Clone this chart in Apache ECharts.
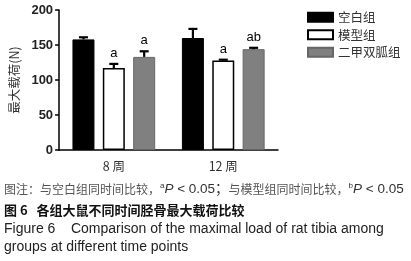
<!DOCTYPE html>
<html><head><meta charset="utf-8">
<script src="https://cdn.jsdelivr.net/npm/echarts@6/dist/echarts.min.js"></script>
<style>html,body{margin:0;padding:0;background:#fff}#c{width:411px;height:261px}</style>
</head><body><div id="c"></div>
<script>
var categories = ['8 周', '12 周'];
var seriesNames = ['空白组', '模型组', '二甲双胍组'];
var blankVals = [158, 160];
var blankErr = [3, 13];
var modelVals = [117, 128];
var modelErr = [6, 1];
var metforminVals = [133, 144];
var metforminErr = [8, 2];
var modelMarks = ['a', 'a'];
var metforminMarks = ['a', 'ab'];
var blankMarks = ['', ''];
var yTicks = [0, 50, 100, 150, 200];

var FONT = '"Liberation Sans", Arial, "Noto Sans CJK SC", sans-serif';
var CJK = '"Noto Sans CJK SC", "Liberation Sans", sans-serif';
var BW = 22, GAP = 0.38;
var spacing = BW * (1 + GAP);

var chart = echarts.init(document.getElementById('c'), null, {renderer: 'canvas'});

function errSeries(vals, errs, marks, idx) {
  var offset = (idx - 1) * spacing;
  return {
    type: 'custom',
    z: 5,
    silent: true,
    data: vals.map(function (v, i) { return [i, v, errs[i]]; }),
    renderItem: function (params, api) {
      var i = api.value(0), v = api.value(1), e = api.value(2);
      var mark = marks[params.dataIndex];
      var base = api.coord([i, v]);
      var top = api.coord([i, v + e]);
      var x = base[0] + offset;
      var cw = 9;
      var children = [
        {type: 'line', shape: {x1: x, y1: base[1], x2: x, y2: top[1]}, style: {stroke: '#000', lineWidth: 2.2}},
        {type: 'line', shape: {x1: x - cw / 2, y1: top[1], x2: x + cw / 2, y2: top[1]}, style: {stroke: '#000', lineWidth: 2.2}}
      ];
      if (mark) {
        children.push({type: 'text', style: {text: mark, x: x, y: top[1] - 4, textAlign: 'center', textVerticalAlign: 'bottom', font: '13px ' + FONT, fill: '#000'}});
      }
      return {type: 'group', children: children};
    }
  };
}

chart.setOption({
  animation: false,
  backgroundColor: '#fff',
  grid: {left: 58, right: 133, top: 10, bottom: 111, containLabel: false},
  legend: {
    orient: 'vertical', left: 302, top: 6, itemWidth: 25, itemHeight: 9, itemGap: 5,
    data: seriesNames,
    textStyle: {fontFamily: CJK, fontSize: 12.5, color: '#333'},
    icon: 'rect'
  },
  xAxis: {
    type: 'category', data: categories,
    axisLine: {lineStyle: {color: '#000', width: 1.5}},
    axisTick: {alignWithLabel: true, length: 4, lineStyle: {color: '#000', width: 1.5}},
    axisLabel: {fontFamily: CJK, fontSize: 12.5, color: '#333', margin: 10}
  },
  yAxis: {
    type: 'value', min: yTicks[0], max: yTicks[yTicks.length - 1], interval: 50,
    name: '最大载荷(N)', nameLocation: 'middle', nameGap: 30, nameRotate: 90,
    nameTextStyle: {fontFamily: CJK, fontSize: 12.5, color: '#333'},
    axisLine: {show: true, lineStyle: {color: '#000', width: 1.5}},
    axisTick: {show: true, length: 4, lineStyle: {color: '#000', width: 1.5}},
    axisLabel: {fontFamily: FONT, fontSize: 13, fontWeight: 'bold', color: '#222', margin: 6},
    splitLine: {show: false}
  },
  series: [
    {name: seriesNames[0], type: 'bar', data: blankVals, barWidth: BW, barGap: (GAP * 100) + '%',
     itemStyle: {color: '#000', borderColor: '#000', borderWidth: 1}},
    {name: seriesNames[1], type: 'bar', data: modelVals, barWidth: BW, barGap: (GAP * 100) + '%',
     itemStyle: {color: '#fff', borderColor: '#000', borderWidth: 1.5}},
    {name: seriesNames[2], type: 'bar', data: metforminVals, barWidth: BW, barGap: (GAP * 100) + '%',
     itemStyle: {color: '#808080', borderColor: '#666', borderWidth: 1}},
    errSeries(blankVals, blankErr, blankMarks, 0),
    errSeries(modelVals, modelErr, modelMarks, 1),
    errSeries(metforminVals, metforminErr, metforminMarks, 2)
  ],
  graphic: [
    {type: 'text', left: 4, top: 182, style: {
      text: '{c|图注：与空白组同时间比较，}{sup|a}{i|P}{n| < 0.05；}{c|与模型组同时间比较，}{sup|b}{i|P}{n| < 0.05}',
      rich: {
        c: {fontFamily: CJK, fontSize: 12, fill: '#555'},
        sup: {fontFamily: FONT, fontSize: 8, fill: '#333', verticalAlign: 'top', padding: [0, 0, 6, 0]},
        i: {fontFamily: FONT, fontSize: 13.5, fontStyle: 'italic', fill: '#333'},
        n: {fontFamily: FONT, fontSize: 13.5, fill: '#333'}
      }}},
    {type: 'text', left: 4, top: 204, style: {text: '图 6   各组大鼠不同时间胫骨最大载荷比较', font: 'bold 13px ' + CJK, fill: '#111'}},
    {type: 'text', left: 4, top: 222, style: {text: 'Figure 6    Comparison of the maximal load of rat tibia among', font: '14px ' + FONT, fill: '#222'}},
    {type: 'text', left: 4, top: 240, style: {text: 'groups at different time points', font: '14px ' + FONT, fill: '#222'}}
  ]
});
</script></body></html>
